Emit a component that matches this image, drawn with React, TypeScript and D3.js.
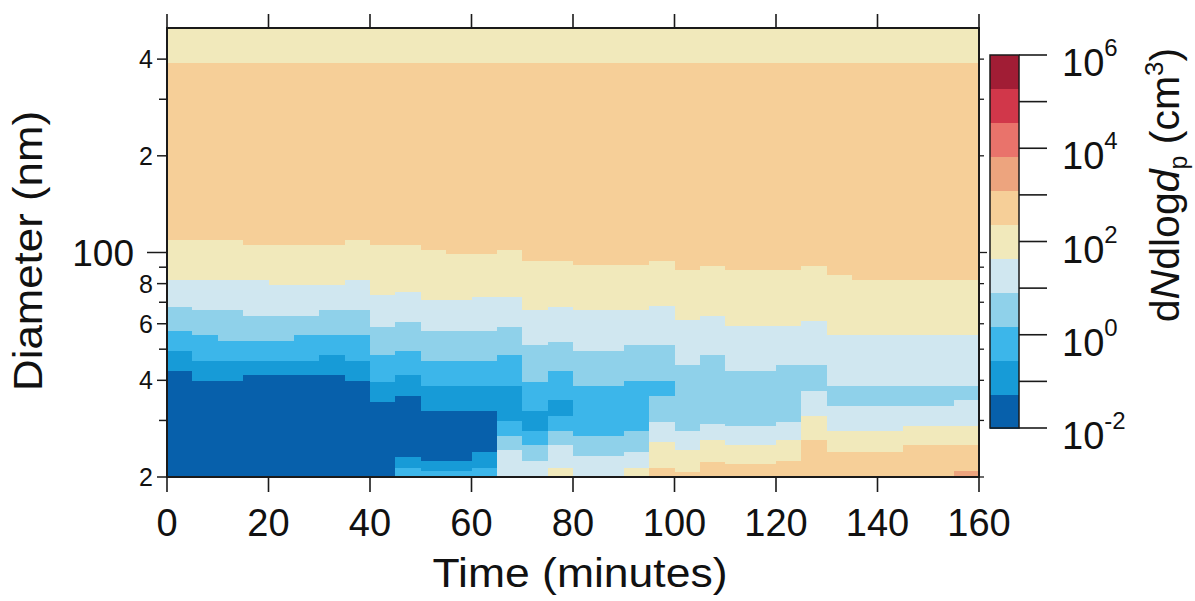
import React from "react";
import * as d3 from "d3";

const W = 1195;
const H = 601;

// Scan start times (minutes); each SMPS scan lasts 5 minutes
const scanStarts = [0, 5, 10, 15, 20, 25, 30, 35, 40, 45, 50, 55, 60, 65, 70, 75, 80, 85, 90, 95, 100, 105, 110, 115, 120, 125, 130, 135, 140, 145, 150, 155];
const scanLength = 5;

// Size distributions per scan: [upper diameter of run (nm), dN/dlogDp (cm^-3)], from 20 nm upward
const sizeProfiles: [number, number][][] = [
  [[43.1, 0.03], [49.7, 0.15], [57.4, 0.7], [67.9, 4], [82.2, 20], [109.5, 100], [390, 500], [500, 100]],
  [[40.1, 0.03], [46.3, 0.15], [55.4, 0.7], [66.3, 4], [82.2, 20], [109.5, 100], [390, 500], [500, 100]],
  [[40.1, 0.03], [46.3, 0.15], [53.4, 0.7], [66.3, 4], [82.2, 20], [109.5, 100], [390, 500], [500, 100]],
  [[41.6, 0.03], [46.3, 0.15], [53.4, 0.7], [63.9, 4], [82.2, 20], [105.6, 100], [390, 500], [500, 100]],
  [[41.6, 0.03], [46.3, 0.15], [53.4, 0.7], [63.9, 4], [79.3, 20], [105.6, 100], [390, 500], [500, 100]],
  [[41.6, 0.03], [46.3, 0.15], [55.4, 0.7], [63.9, 4], [79.3, 20], [105.6, 100], [390, 500], [500, 100]],
  [[41.6, 0.03], [48.0, 0.15], [55.4, 0.7], [66.3, 4], [79.3, 20], [105.6, 100], [390, 500], [500, 100]],
  [[40.1, 0.03], [46.3, 0.15], [55.4, 0.7], [66.3, 4], [82.2, 20], [109.5, 100], [390, 500], [500, 100]],
  [[34.3, 0.03], [39.6, 0.15], [48.0, 0.7], [58.8, 4], [73.8, 20], [105.6, 100], [390, 500], [500, 100]],
  [[21.5, 0.7], [23.1, 0.15], [36.0, 0.03], [41.6, 0.15], [49.7, 0.7], [60.9, 4], [75.6, 20], [105.6, 100], [390, 500], [500, 100]],
  [[21.0, 0.7], [22.6, 0.15], [32.3, 0.03], [38.7, 0.15], [46.3, 0.7], [57.4, 4], [71.2, 20], [101.9, 100], [390, 500], [500, 100]],
  [[21.0, 0.7], [22.6, 0.15], [32.3, 0.03], [38.7, 0.15], [46.3, 0.7], [57.4, 4], [71.2, 20], [99.5, 100], [390, 500], [500, 100]],
  [[21.5, 0.7], [24.0, 0.15], [32.3, 0.03], [38.7, 0.15], [46.3, 0.7], [57.4, 4], [72.9, 20], [99.5, 100], [390, 500], [500, 100]],
  [[24.3, 20], [27.0, 4], [30.1, 0.7], [38.7, 0.15], [48.0, 0.7], [58.8, 4], [72.9, 20], [101.9, 100], [390, 500], [500, 100]],
  [[22.6, 20], [25.2, 4], [28.0, 0.7], [32.3, 0.15], [39.6, 0.7], [51.6, 4], [66.3, 20], [94.8, 100], [390, 500], [500, 100]],
  [[21.5, 100], [25.2, 20], [28.0, 4], [31.2, 0.7], [34.8, 0.15], [43.1, 0.7], [52.8, 4], [67.9, 20], [94.8, 100], [390, 500], [500, 100]],
  [[23.4, 20], [27.0, 4], [38.7, 0.7], [49.7, 4], [66.3, 20], [91.5, 100], [390, 500], [500, 100]],
  [[23.4, 20], [27.0, 4], [38.7, 0.7], [49.7, 4], [66.3, 20], [91.5, 100], [390, 500], [500, 100]],
  [[21.5, 100], [24.0, 20], [28.0, 4], [40.1, 0.7], [51.6, 4], [66.3, 20], [91.5, 100], [390, 500], [500, 100]],
  [[21.5, 500], [25.8, 100], [29.7, 20], [36.0, 4], [40.1, 0.7], [51.6, 4], [68.2, 20], [94.4, 100], [390, 500], [500, 100]],
  [[20.8, 500], [24.3, 100], [28.0, 20], [44.7, 4], [61.7, 20], [88.7, 100], [390, 500], [500, 100]],
  [[22.3, 500], [26.1, 100], [29.4, 20], [48.0, 4], [63.5, 20], [90.9, 100], [390, 500], [500, 100]],
  [[22.1, 500], [25.2, 100], [29.0, 20], [43.1, 4], [59.5, 20], [88.7, 100], [390, 500], [500, 100]],
  [[22.1, 500], [25.2, 100], [29.0, 20], [43.1, 4], [59.5, 20], [88.7, 100], [390, 500], [500, 100]],
  [[22.6, 500], [26.1, 100], [29.7, 20], [44.7, 4], [59.5, 20], [88.7, 100], [390, 500], [500, 100]],
  [[26.1, 500], [31.2, 100], [37.3, 20], [44.7, 4], [61.4, 20], [90.9, 100], [390, 500], [500, 100]],
  [[24.0, 500], [28.0, 100], [33.5, 20], [38.7, 4], [55.4, 20], [85.2, 100], [390, 500], [500, 100]],
  [[24.0, 500], [28.0, 100], [33.5, 20], [38.7, 4], [55.4, 20], [82.2, 100], [390, 500], [500, 100]],
  [[24.0, 500], [28.0, 100], [33.5, 20], [38.7, 4], [55.4, 20], [82.2, 100], [390, 500], [500, 100]],
  [[25.2, 500], [29.0, 100], [33.5, 20], [38.7, 4], [55.4, 20], [82.2, 100], [390, 500], [500, 100]],
  [[25.2, 500], [29.0, 100], [33.5, 20], [38.7, 4], [55.4, 20], [82.2, 100], [390, 500], [500, 100]],
  [[21.0, 3000], [25.2, 500], [29.0, 100], [34.8, 20], [38.7, 4], [55.4, 20], [82.2, 100], [390, 500], [500, 100]],
];

const minDiameter = 20;
const maxDiameter = 500;

// 11-level colour map, low -> high
const levelColors = ["#0760ab", "#179bd7", "#3cb6ea", "#8fd1ea", "#d0e7f0", "#f1e9bb", "#f6cf98", "#eda47e", "#e9736b", "#d1374a", "#a11d35"];
const colorExponents = [-2, -1, 0, 1, 2, 3, 4, 5, 6];

const xTicks = [0, 20, 40, 60, 80, 100, 120, 140, 160];
const yTicks = [20, 30, 40, 50, 60, 70, 80, 90, 100, 200, 300, 400];
const yMinorLabels: [number, string][] = [[20, "2"], [40, "4"], [60, "6"], [80, "8"], [200, "2"], [400, "4"]];
const yMajorLabels: [number, string][] = [[100, "100"]];

const FONT = "'Liberation Sans', Arial, Helvetica, sans-serif";

const plot = { left: 167, right: 979, top: 28, bottom: 477 };
const cbar = { left: 990, right: 1019, top: 55, bottom: 428 };

export default function App() {
  const x = d3.scaleLinear().domain([0, 160]).range([plot.left, plot.right]);
  const y = d3.scaleLog().domain([minDiameter, maxDiameter]).range([plot.bottom, plot.top]);
  const color = d3.scaleQuantize<string>().domain([-2, 6]).range(levelColors);
  const cy = d3.scaleLinear().domain([-2, 6]).range([cbar.bottom, cbar.top]);

  const cells: JSX.Element[] = [];
  scanStarts.forEach((t, i) => {
    let lower = minDiameter;
    sizeProfiles[i].forEach(([upper, conc], j) => {
      const x0 = x(t);
      const x1 = x(t + scanLength);
      const y0 = y(upper);
      const y1 = y(lower);
      cells.push(
        <rect key={`${i}-${j}`} x={x0} y={y0} width={x1 - x0 + 0.6} height={y1 - y0 + 0.6}
          fill={color(Math.log10(conc))} shapeRendering="crispEdges" />
      );
      lower = upper;
    });
  });

  const levelStep = 8 / levelColors.length;

  return (
    <svg width={W} height={H} style={{ position: "absolute", left: 0, top: 0, background: "#fff" }}
      fontFamily={FONT}>
      <rect x={0} y={0} width={W} height={H} fill="#fff" />
      {cells}
      {/* frame */}
      <rect x={plot.left} y={plot.top} width={plot.right - plot.left} height={plot.bottom - plot.top}
        fill="none" stroke="#1a1a1a" strokeWidth={2} />
      {/* x ticks bottom & top */}
      {xTicks.map((t) => (
        <g key={`xt${t}`}>
          <line x1={x(t)} x2={x(t)} y1={plot.bottom} y2={plot.bottom + 15} stroke="#1a1a1a" strokeWidth={1.6} />
          <line x1={x(t)} x2={x(t)} y1={plot.top} y2={plot.top - 14} stroke="#1a1a1a" strokeWidth={1.6} />
          <text x={x(t)} y={536} fontSize={38} textAnchor="middle" fill="#111">{t}</text>
        </g>
      ))}
      {/* y ticks left & right */}
      {yTicks.map((d) => {
        const major = d === 100;
        const labeled = yMinorLabels.some(([v]) => v === d);
        const len = major ? 20 : labeled ? 10 : 8;
        return (
          <g key={`yt${d}`}>
            <line x1={plot.left - len} x2={plot.left} y1={y(d)} y2={y(d)} stroke="#1a1a1a" strokeWidth={1.5} />
            <line x1={plot.right} x2={plot.right + (major ? 8 : 5)} y1={y(d)} y2={y(d)} stroke="#1a1a1a" strokeWidth={1.3} />
          </g>
        );
      })}
      {yMinorLabels.map(([d, s]) => (
        <text key={`yl${d}`} x={153} y={y(d) + 9} fontSize={25} textAnchor="end" fill="#111">{s}</text>
      ))}
      {yMajorLabels.map(([d, s]) => (
        <text key={`yL${d}`} x={134} y={y(d) + 13} fontSize={37} textAnchor="end" fill="#111">{s}</text>
      ))}
      {/* axis titles */}
      <text x={580} y={587} fontSize={40} textAnchor="middle" fill="#111" textLength={295} lengthAdjust="spacingAndGlyphs">
        Time (minutes)
      </text>
      <text transform="translate(42,251) rotate(-90)" fontSize={40} textAnchor="middle" fill="#111"
        textLength={280} lengthAdjust="spacingAndGlyphs">
        Diameter (nm)
      </text>
      {/* colour bar */}
      {levelColors.map((c, i) => {
        const lo = -2 + i * levelStep;
        const hi = lo + levelStep;
        return (
          <rect key={`cb${i}`} x={cbar.left} y={cy(hi)} width={cbar.right - cbar.left} height={cy(lo) - cy(hi) + 0.5}
            fill={c} shapeRendering="crispEdges" />
        );
      })}
      <rect x={cbar.left} y={cbar.top} width={cbar.right - cbar.left} height={cbar.bottom - cbar.top}
        fill="none" stroke="#1a1a1a" strokeWidth={1.5} />
      {colorExponents.map((e) => (
        <line key={`ct${e}`} x1={cbar.right} x2={cbar.right + 28} y1={cy(e)} y2={cy(e)} stroke="#1a1a1a" strokeWidth={1.6} />
      ))}
      {colorExponents.filter((e) => e % 2 === 0).map((e) => (
        <text key={`cl${e}`} x={1062} y={cy(e) + 21} fontSize={38} fill="#111">
          10<tspan dy={-20} fontSize={24}>{e}</tspan>
        </text>
      ))}
      <text transform="translate(1179,185) rotate(-90)" fontSize={41} textAnchor="middle" fill="#111">
        d<tspan fontStyle="italic">N</tspan>dlog<tspan fontStyle="italic">d</tspan>
        <tspan dy={8} fontSize={25}>p</tspan>
        <tspan dy={-8}> (cm</tspan>
        <tspan dy={-16} fontSize={26}>3</tspan>
        <tspan dy={16}>)</tspan>
      </text>
    </svg>
  );
}
